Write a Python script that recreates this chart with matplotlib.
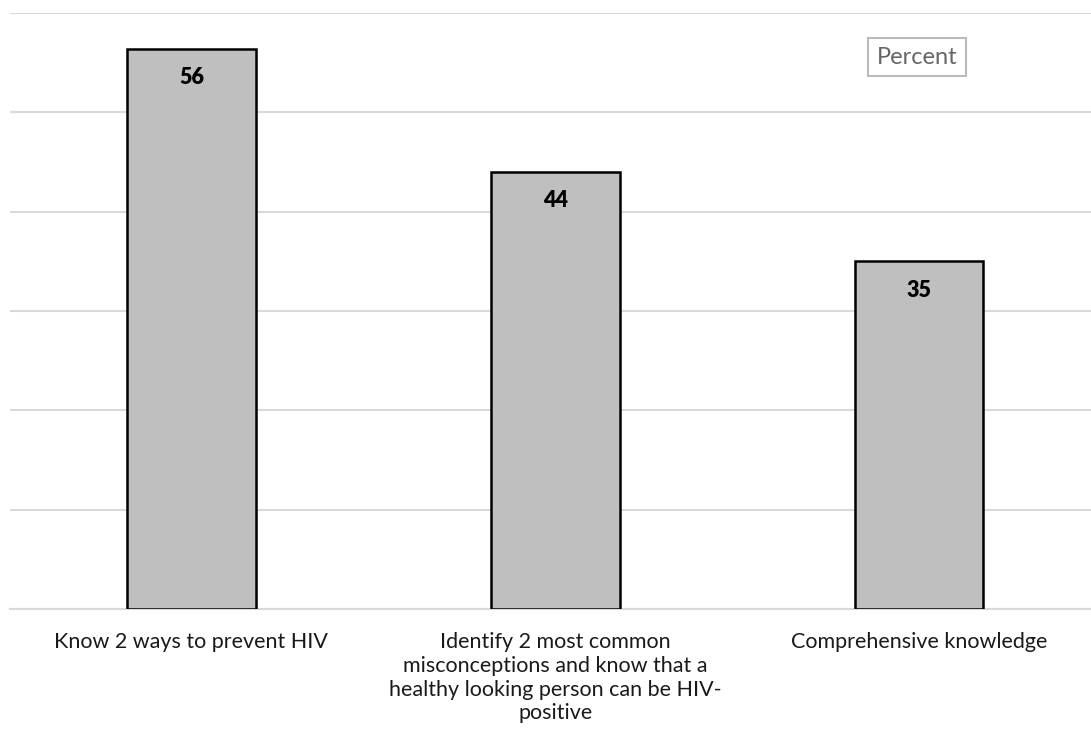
import matplotlib
matplotlib.use("Agg")
import matplotlib.pyplot as plt

categories = [
    "Know 2 ways to prevent HIV",
    "Identify 2 most common\nmisconceptions and know that a\nhealthy looking person can be HIV-\npositive",
    "Comprehensive knowledge",
]
values = [56.4, 44.0, 35.0]
value_labels = ["56", "44", "35"]
yticks = [0, 10, 20, 30, 40, 50, 60]

plt.rcParams['font.family'] = ['Lato', 'DejaVu Sans']

fig = plt.figure(figsize=(10.91, 7.40), dpi=100)
ax = fig.add_axes([9.5/1091, (740-609)/740, 1 - 9.5/1091, (609-13)/740])

x = list(range(len(categories)))
bars = ax.bar(x, values, width=0.354, color="#bfbfbf", edgecolor="black", linewidth=1.8, zorder=3)
ax.set_xlim(-0.5, 2.5 - 10/364)
ax.set_ylim(0, 60)
ax.set_yticks(yticks)
ax.yaxis.grid(True, color="#d9d9d9", linewidth=1.5, zorder=0)
ax.tick_params(left=False, labelleft=False, bottom=False)
for s in ["top", "right", "left"]:
    ax.spines[s].set_visible(False)
ax.spines["bottom"].set_color("#d9d9d9")
ax.spines["bottom"].set_linewidth(1.5)
ax.set_xticks(x)
ax.set_xticklabels(categories, fontsize=15.5, color="#1a1a1a", linespacing=1.24, va="top")
ax.tick_params(axis="x", pad=13)

for xi, v, lab in zip(x, values, value_labels):
    ax.annotate(lab, (xi, v), xytext=(0, -29), textcoords="offset pixels",
                ha="center", va="center", fontsize=15.5, fontweight="heavy", color="black", zorder=4)

fig.text(917/1091, 1 - 57/740, "Percent", ha="center", va="center", fontsize=17, color="#666666",
         bbox=dict(boxstyle="square,pad=0.35", facecolor="white", edgecolor="#bbbbbb", linewidth=1.5))

fig.savefig("out.png", dpi=100)
